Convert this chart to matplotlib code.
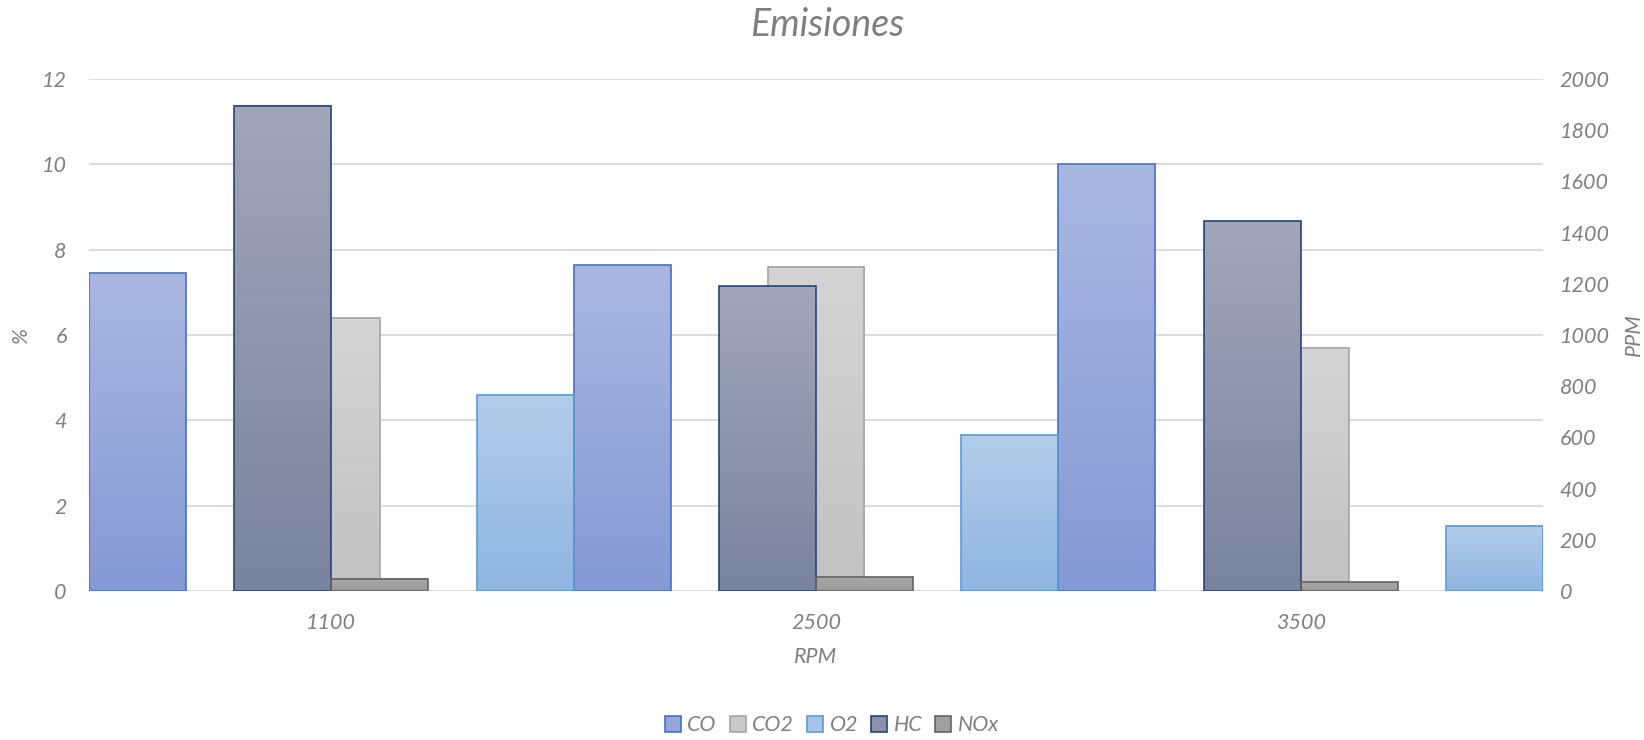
import matplotlib.pyplot as plt
import numpy as np
from matplotlib.colors import LinearSegmentedColormap
from matplotlib.patches import Patch

# emisiones por régimen de giro
rpm = ['1100', '2500', '3500']
co = [7.45, 7.63, 10.0]      # %
co2 = [6.4, 7.6, 5.7]        # %
o2 = [4.6, 3.65, 1.53]       # %
hc = [1895, 1190, 1445]      # PPM
nox = [48, 53, 34]           # PPM

plt.rcParams['font.family'] = ['Lato', 'DejaVu Sans']
plt.rcParams['font.style'] = 'italic'
gray = '#7f7f7f'

fig = plt.figure(figsize=(16.44, 7.40), dpi=100)
ax = fig.add_axes([0.0541, 0.2014, 0.8845, 0.6918])
ax2 = ax.twinx()

x = np.arange(len(rpm))
w = 0.2


def shade(axis, bars, top, bottom):
    # relleno degradado vertical dentro de cada barra
    cmap = LinearSegmentedColormap.from_list('grad', [bottom, top])
    grad = np.linspace(0, 1, 128).reshape(-1, 1)
    for b in bars:
        x0, y0 = b.get_xy()
        axis.imshow(grad, cmap=cmap, origin='lower', aspect='auto',
                    extent=(x0, x0 + b.get_width(), y0, y0 + b.get_height()),
                    zorder=1, interpolation='bicubic')


series_pct = [
    (co, -2 * w, '#aab7e1', '#8599d5', '#4472c4'),
    (co2, 0, '#d4d4d4', '#c2c2c2', '#a5a5a5'),
    (o2, 2 * w, '#b3cde9', '#8fb5e1', '#5b9bd5'),
]
series_ppm = [
    (hc, -w / 2, '#a2a6ba', '#7a839f', '#264478'),
    (nox, w / 2, '#a8a8a8', '#9a9a9a', '#636363'),
]

for vals, off, top, bottom, edge in series_pct:
    bars = ax.bar(x + off, vals, w, facecolor='none', edgecolor=edge, lw=1.2, zorder=2)
    shade(ax, bars, top, bottom)

for vals, off, top, bottom, edge in series_ppm:
    bars = ax2.bar(x + off, vals, w, facecolor='none', edgecolor=edge, lw=1.2, zorder=2)
    shade(ax2, bars, top, bottom)

ax.set_xlim(-0.5, 2.5)
ax.set_ylim(0, 12)
ax2.set_ylim(0, 2000)
ax.set_xticks(x)
ax.set_xticklabels(rpm)
ax.set_yticks(range(0, 13, 2))
ax2.set_yticks(range(0, 2001, 200))

ax.yaxis.grid(True, color='#d9d9d9', lw=1.3)
ax.set_axisbelow(True)
for a in (ax, ax2):
    for s in a.spines.values():
        s.set_visible(False)
ax.tick_params(axis='both', length=0, labelsize=15.5, labelcolor=gray)
ax.tick_params(axis='y', pad=16)
ax.tick_params(axis='x', pad=16)
ax2.tick_params(axis='y', length=0, labelsize=15.5, labelcolor=gray, pad=12)

ax.set_ylabel('%', fontsize=15.5, color=gray, labelpad=8)
ax2.set_ylabel('PPM', fontsize=15.5, color=gray, rotation=90, labelpad=10)
ax.set_xlabel('RPM', fontsize=15.5, color=gray, labelpad=10)
fig.text(0.503, 0.966, 'Emisiones', fontsize=27, color=gray, ha='center', va='center')

handles = [
    Patch(facecolor='#95a6db', edgecolor='#4472c4', lw=1.2),
    Patch(facecolor='#c9c9c9', edgecolor='#a5a5a5', lw=1.2),
    Patch(facecolor='#a5c4e7', edgecolor='#5b9bd5', lw=1.2),
    Patch(facecolor='#8a91aa', edgecolor='#264478', lw=1.2),
    Patch(facecolor='#9f9f9f', edgecolor='#636363', lw=1.2),
]
leg = fig.legend(handles, ['CO', 'CO2', 'O2', 'HC', 'NOx'], loc='center',
                 bbox_to_anchor=(0.506, 0.02), ncol=5, frameon=False,
                 handlelength=0.75, handleheight=0.75, handletextpad=0.3,
                 columnspacing=0.6, fontsize=15.5)
for t in leg.get_texts():
    t.set_color(gray)

fig.savefig('out.png', dpi=100)
